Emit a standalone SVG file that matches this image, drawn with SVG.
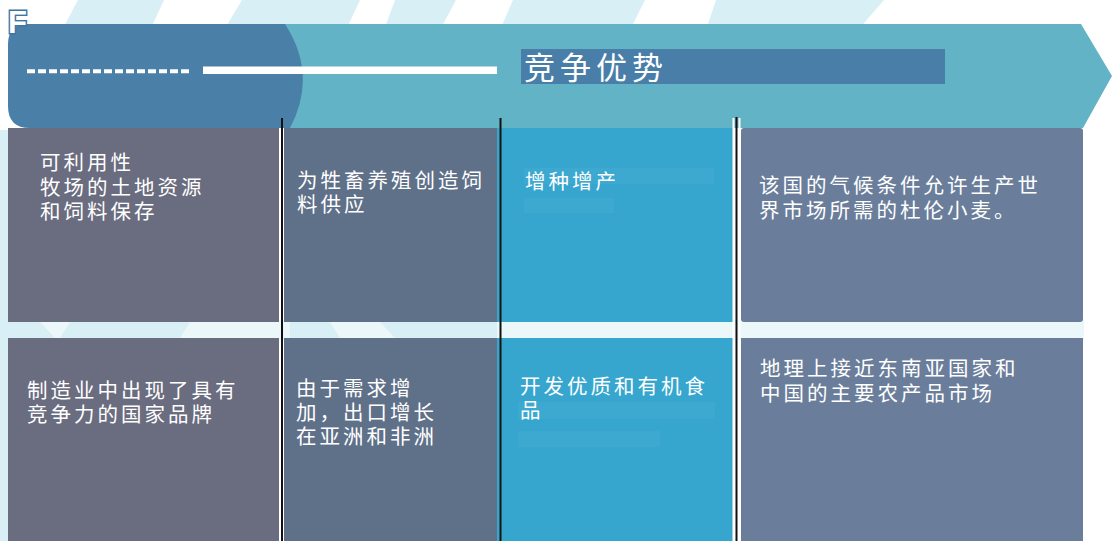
<svg xmlns="http://www.w3.org/2000/svg" width="1112" height="541" viewBox="0 0 1112 541">
  <style>
    .t { font-family: "Noto Sans CJK SC", "Noto Sans", sans-serif; font-size: 20.5px; fill: #ffffff; letter-spacing: 3px; }
    .title { font-family: "Noto Sans CJK SC", "Noto Sans", sans-serif; font-size: 31px; fill: #ffffff; letter-spacing: 5px; }
    .deco { fill: #d9eff6; }
    .div { stroke: #111111; stroke-width: 2; }
    .ghost { fill: #ffffff; opacity: 0.035; }
  </style>
  <rect x="0" y="0" width="1112" height="541" fill="#ffffff"/>
  <g id="background">
    <polygon class="deco" points="78,0 164,0 150,30 62,30"/>
    <polygon class="deco" points="242,0 360,0 346,30 224,30"/>
    <polygon class="deco" points="395,0 456,0 440,30 384,30"/>
    <polygon class="deco" points="513,0 645,0 630,30 500,30"/>
    <polygon class="deco" points="716,0 884,0 858,30 706,30"/>
    <rect class="deco" x="0" y="130" width="9" height="411"/>
    <rect x="8" y="320" width="1076" height="20" fill="#ecf7fa"/>
    <polygon class="deco" points="8,322 40,322 55,338 8,338"/>
    <polygon class="deco" points="70,322 190,322 180,338 60,338"/>
    <polygon class="deco" points="290,322 330,322 340,338 290,338"/>
    <polygon class="deco" points="380,322 497,322 497,338 395,338"/>
  </g>

  <g id="header">
    <polygon points="250,24 1081,24 1112,76 1083,128 250,128" fill="#62b3c6"/>
    <path d="M28,24 L285,24 Q318,75 290,128 L30,128 Q8,128 8,106 L8,44 Q8,24 28,24 Z" fill="#4a7fa8"/>
    <line x1="27" y1="71.3" x2="191" y2="71.3" stroke="#ffffff" stroke-width="4" stroke-dasharray="8,3"/>
    <rect x="203" y="66.5" width="294" height="7.5" fill="#ffffff"/>
    <text x="8" y="33" font-family="Liberation Sans, Arial, sans-serif" font-size="31" font-weight="bold" fill="#ffffff" stroke="#3e75a2" stroke-width="3" paint-order="stroke">F</text>
  </g>

  <g id="title">
    <rect x="521" y="49" width="424" height="35" fill="#487ea8"/>
    <text class="title" x="524" y="79">竞争优势</text>
  </g>

  <g id="cell-1a">
    <rect x="8" y="128" width="271" height="194" fill="#6a6c7f"/>
    <text class="t" x="40" y="170">可利用性<tspan x="40" dy="24.5">牧场的土地资源</tspan><tspan x="40" dy="24.5">和饲料保存</tspan></text>
  </g>
  <g id="cell-2a">
    <rect x="284" y="128" width="214" height="194" fill="#5f7089"/>
    <text class="t" x="297" y="188">为牲畜养殖创造饲<tspan x="297" dy="24">料供应</tspan></text>
  </g>
  <g id="cell-3a">
    <rect x="497" y="128" width="236" height="194" fill="#36a6cf"/>
    <rect class="ghost" x="524" y="168" width="190" height="16"/>
    <rect class="ghost" x="524" y="198" width="90" height="15"/>
    <text class="t" x="525" y="189">增种增产</text>
  </g>
  <g id="cell-4a">
    <rect x="741" y="128" width="342" height="194" rx="3" fill="#6a7e9b"/>
    <text class="t" x="759" y="193">该国的气候条件允许生产世<tspan x="759" dy="25">界市场所需的杜伦小麦。</tspan></text>
  </g>

  <g id="cell-1b">
    <rect x="8" y="338" width="271" height="203" fill="#6a6c7f"/>
    <text class="t" x="27" y="398">制造业中出现了具有<tspan x="27" dy="24">竞争力的国家品牌</tspan></text>
  </g>
  <g id="cell-2b">
    <rect x="284" y="338" width="214" height="203" fill="#5f7089"/>
    <text class="t" x="296" y="396">由于需求增<tspan x="296" dy="24">加，出口增长</tspan><tspan x="296" dy="23.5">在亚洲和非洲</tspan></text>
  </g>
  <g id="cell-3b">
    <rect x="497" y="338" width="236" height="203" fill="#36a6cf"/>
    <rect class="ghost" x="518" y="402" width="197" height="17"/>
    <rect class="ghost" x="518" y="431" width="142" height="16"/>
    <text class="t" x="520" y="394">开发优质和有机食<tspan x="520" dy="24">品</tspan></text>
  </g>
  <g id="cell-4b">
    <rect x="741" y="338" width="342" height="203" fill="#6a7e9b"/>
    <text class="t" x="760" y="376">地理上接近东南亚国家和<tspan x="760" dy="25">中国的主要农产品市场</tspan></text>
  </g>

  <g id="connectors">
    <line class="div" x1="282" y1="118" x2="282" y2="541"/>
    <line class="div" x1="500.5" y1="118" x2="500.5" y2="541"/>
    <line x1="733.5" y1="118" x2="733.5" y2="541" stroke="#ffffff" stroke-width="2"/>
    <line x1="739.5" y1="118" x2="739.5" y2="541" stroke="#ffffff" stroke-width="2"/>
    <line class="div" x1="736.5" y1="117" x2="736.5" y2="541"/>
  </g>
</svg>
